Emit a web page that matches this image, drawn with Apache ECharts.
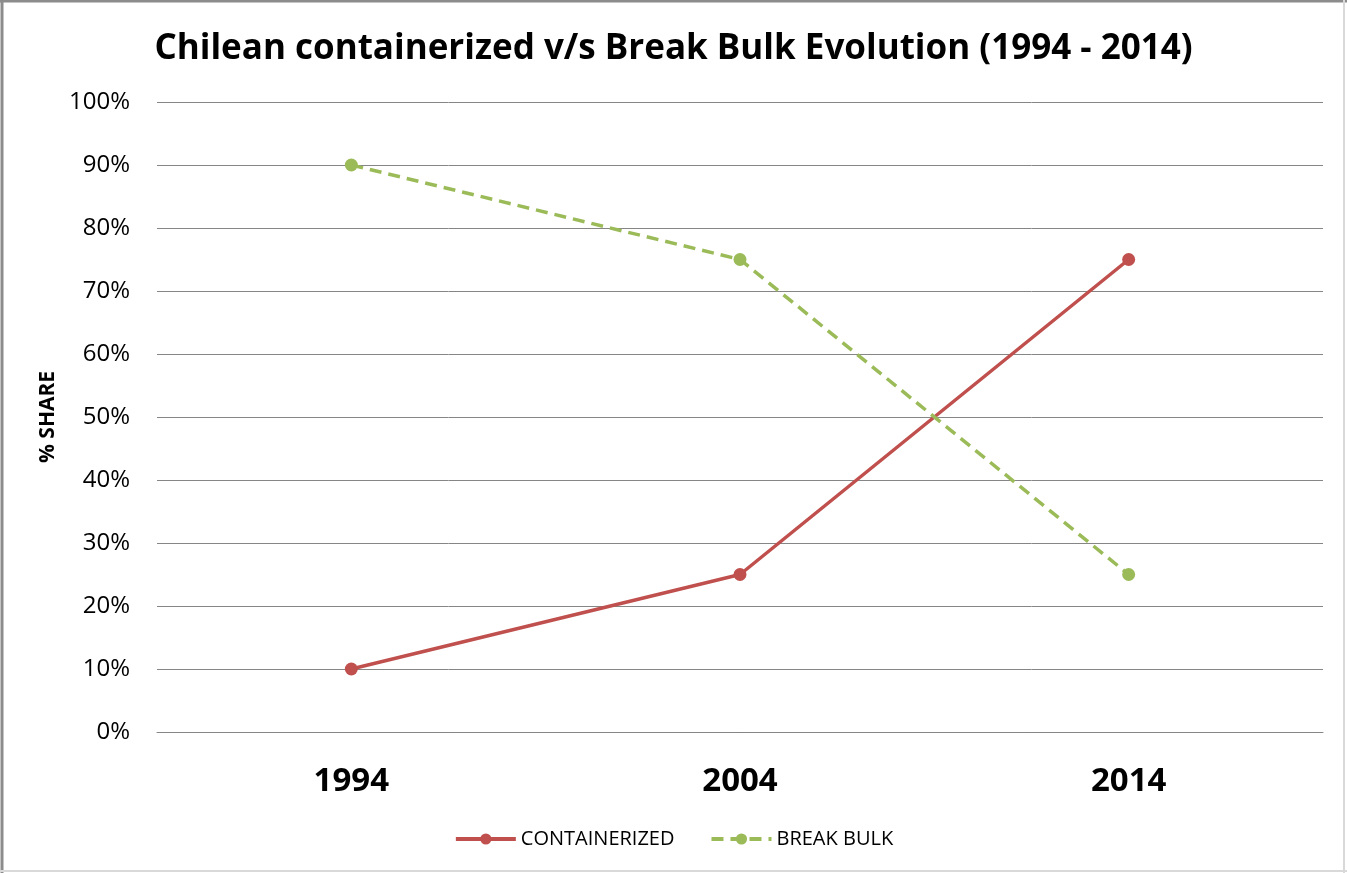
<!DOCTYPE html>
<html>
<head>
<meta charset="utf-8">
<script src="https://cdn.jsdelivr.net/npm/echarts@6/dist/echarts.min.js"></script>
<style>
html,body{margin:0;padding:0;background:#fff;}
#chart{width:1347px;height:873px;}
</style>
</head>
<body>
<div id="chart"></div>
<script>
const categories = ['1994', '2004', '2014'];
const containerized = [10, 25, 75];
const breakBulk = [90, 75, 25];
const yTicks = [0, 10, 20, 30, 40, 50, 60, 70, 80, 90, 100];

const chart = echarts.init(document.getElementById('chart'));
const FONT = '"Open Sans", "Noto Sans", sans-serif';
chart.setOption({
  animation: false,
  backgroundColor: '#fff',
  title: {
    text: 'Chilean containerized v/s Break Bulk Evolution (1994 - 2014)',
    left: 'center',
    top: 27,
    textStyle: {fontFamily: FONT, fontWeight: 'bold', fontSize: 35, color: '#000'}
  },
  legend: {
    bottom: 19,
    left: 'center',
    itemWidth: 60,
    itemHeight: 14,
    itemGap: 35,
    textStyle: {fontFamily: FONT, fontSize: 20, color: '#000'},
    lineStyle: {width: 4},
    data: ['CONTAINERIZED', 'BREAK BULK']
  },
  grid: {left: 157, right: 24, top: 102, bottom: 141, containLabel: false},
  xAxis: {
    type: 'category',
    data: categories,
    boundaryGap: true,
    axisLine: {show: true, lineStyle: {color: '#868686', width: 1}},
    axisTick: {show: false},
    axisLabel: {fontFamily: FONT, fontWeight: 'bold', fontSize: 33, color: '#000', margin: 33}
  },
  yAxis: {
    type: 'value',
    min: 0, max: 100, interval: 10,
    name: '% SHARE',
    nameLocation: 'middle',
    nameGap: 98,
    nameRotate: 90,
    nameTextStyle: {fontFamily: FONT, fontWeight: 'bold', fontSize: 21, color: '#000'},
    axisLine: {show: false},
    axisTick: {show: false},
    splitLine: {lineStyle: {color: '#868686', width: 1}},
    axisLabel: {
      fontFamily: FONT, fontSize: 24, color: '#000', margin: 27,
      formatter: v => yTicks.includes(v) ? v + '%' : ''
    }
  },
  series: [
    {
      name: 'CONTAINERIZED',
      type: 'line',
      data: containerized,
      symbol: 'circle',
      symbolSize: 13,
      itemStyle: {color: '#C0504D'},
      lineStyle: {color: '#C0504D', width: 3.5}
    },
    {
      name: 'BREAK BULK',
      type: 'line',
      data: breakBulk,
      symbol: 'circle',
      symbolSize: 13,
      itemStyle: {color: '#9BBB59'},
      lineStyle: {color: '#9BBB59', width: 3.5, type: [12, 7]}
    }
  ],
  graphic: [
    {type: 'line', shape: {x1: 2, y1: 0, x2: 2, y2: 873}, style: {stroke: '#8c8c8c', lineWidth: 3}},
    {type: 'line', shape: {x1: 0, y1: 1, x2: 1347, y2: 1}, style: {stroke: '#8c8c8c', lineWidth: 3}},
    {type: 'line', shape: {x1: 1344, y1: 0, x2: 1344, y2: 873}, style: {stroke: '#d9d9d9', lineWidth: 2}},
    {type: 'line', shape: {x1: 0, y1: 871, x2: 1347, y2: 871}, style: {stroke: '#d9d9d9', lineWidth: 2}}
  ]
});
</script>
</body>
</html>
